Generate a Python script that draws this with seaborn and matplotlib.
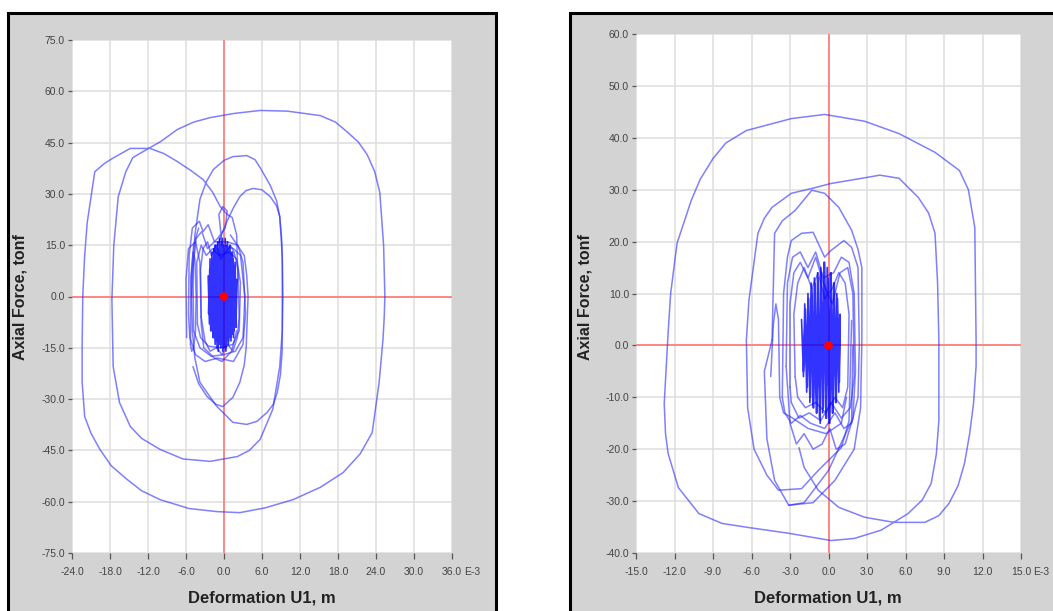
import numpy as np
import pandas as pd
import matplotlib
matplotlib.use("Agg")
import matplotlib.pyplot as plt
import seaborn as sns
from matplotlib.patches import Rectangle

# ---------------- Left panel data (deformation E-3 m, axial force tonf) ----------------
left_big_x = [-5.1, -4.6, -3.8, -2.8, -1.7, 0.0, 1.4, 3.6, 4.9, 5.7, 7.3, 8.3, 8.8, 9.2, 9.3, 9.2, 8.8,
              7.7, 5.7, 4.0, 2.1, -2.2, -6.5, -10.1, -13.0, -14.8, -16.5, -17.5, -17.7, -17.4, -16.7,
              -15.5, -14.4, -12.2, -10.0, -7.4, -4.8, -2.2, 1.5, 5.7, 10.0, 15.2, 17.6, 19.4, 21.2,
              22.6, 23.8, 24.6, 25.2, 25.4, 25.3, 25.1, 24.5, 23.4, 21.5, 18.8, 15.2, 10.9, 6.5, 2.5,
              -1.1, -5.5, -10.1, -13.0, -15.3, -17.8, -19.6, -21.0, -22.0, -22.4, -22.4, -22.3,
              -22.0, -21.6, -20.4, -18.8, -17.5, -14.8, -11.7, -9.5, -7.4, -5.2, -3.3, -1.8, -0.6,
              0.5, 1.3, 2.0, 2.2]
left_big_y = [0.0, 18.0, 28.4, 33.5, 37.1, 39.8, 40.9, 41.2, 40.0, 37.7, 32.5, 28.0, 23.4, 12.0, 0.0,
              -10.0, -20.5, -33.0, -41.8, -45.0, -46.8, -48.2, -47.5, -44.7, -41.5, -38.0, -31.0,
              -20.5, -0.9, 15.0, 29.2, 36.5, 40.6, 43.0, 45.3, 48.8, 51.0, 52.3, 53.5, 54.4, 54.2,
              52.9, 51.0, 48.2, 45.2, 41.5, 36.5, 30.4, 15.0, 0.0, -6.0, -12.6, -25.0, -39.8, -46.0,
              -51.5, -55.8, -59.4, -61.8, -63.2, -62.9, -62.0, -59.4, -56.8, -53.5, -49.5, -44.7,
              -40.0, -35.1, -25.0, -14.6, 0.0, 12.0, 21.6, 36.5, 39.0, 40.5, 43.3, 43.3, 41.8, 39.5,
              36.8, 34.2, 30.5, 26.3, 24.0, 23.1, 18.0, 5.0]

left_mid1_x = [-1.0, -0.2, 0.6, 1.5, 2.5, 3.5, 4.6, 6.0, 7.3, 8.3, 8.8, 9.1, 9.2, 9.2, 8.9, 8.4, 7.8,
               6.8, 5.2, 3.6, 1.4, -1.2, -3.8, -4.6, -5.0, -5.2, -4.8, -4.0]
left_mid1_y = [15.0, 19.0, 22.5, 26.0, 29.2, 31.0, 31.6, 31.2, 29.2, 26.5, 23.4, 17.0, 10.0, -15.5,
               -23.0, -28.1, -31.5, -33.9, -36.5, -37.4, -36.8, -32.0, -25.1, -18.0, -10.0, 5.0,
               15.0, 20.0]

left_mid2_x = [-4.9, -4.0, -2.7, -1.3, -0.2, 1.4, 2.5, 3.2, 3.5, 3.8, 3.6, 3.2, 1.0]
left_mid2_y = [-20.5, -25.5, -29.2, -31.5, -32.2, -29.5, -25.1, -20.0, -15.0, 0.0, 6.0, 12.0, 18.0]

left_ring1_x = [-5.6, -5.5, -5.0, -3.9, -3.3, -2.5, -1.5, 0.5, 2.2, 3.0, 3.4, 3.0, 1.5, -1.0, -3.0,
                -4.5, -5.4, -5.6]
left_ring1_y = [-5.0, 12.0, 20.0, 22.0, 19.0, 21.0, 16.0, 16.0, 15.0, 10.0, -5.0, -14.0, -19.0, -18.0,
                -19.0, -17.0, -12.0, -5.0]

left_ring2_x = [-4.8, -4.9, -4.4, -3.5, -2.6, -1.0, 0.2, 0.5, -0.2, -0.8, -0.3, 1.5, 2.6, 3.3, 3.0,
                1.8, 0.0, -2.0, -3.8, -4.8]
left_ring2_y = [-10.0, 8.0, 17.0, 19.0, 14.0, 17.0, 20.0, 25.0, 26.3, 24.0, 15.0, 14.0, 12.0, 0.0,
                -12.0, -16.0, -17.0, -17.5, -15.0, -10.0]

left_ring3_x = [-4.2, -4.3, -3.6, -2.8, -1.8, -0.8, 0.8, 2.0, 2.6, 2.4, 1.4, -0.5, -2.5, -3.7, -4.2]
left_ring3_y = [-8.0, 10.0, 15.0, 12.0, 14.0, 12.0, 13.0, 11.0, 4.0, -10.0, -14.0, -15.0, -14.5,
                -12.0, -8.0]

left_ring4_x = [-5.9, -6.0, -5.6, -4.5, -3.8, -3.6, -3.2, -1.5, -0.3, 1.2, 2.0]
left_ring4_y = [-12.0, 5.0, 14.0, 16.0, 10.0, -8.0, -15.0, -18.0, -19.0, -16.0, -10.0]

left_ring5_x = [-3.6, -3.7, -3.3, -2.6, -2.0, -1.2, -0.5, 0.3, 1.0, 1.6, 2.2, 2.4, 2.1, 1.4, 0.6,
                -0.3, -1.2, -2.2, -3.0, -3.6]
left_ring5_y = [-6.0, 8.0, 14.0, 16.0, 12.0, 15.0, 11.0, 13.0, 15.0, 13.0, 8.0, -6.0, -12.0, -16.0,
                -14.0, -17.0, -15.0, -16.0, -13.0, -6.0]

left_ring6_x = [-5.3, -5.2, -4.9, -4.6, -4.4, -4.5, -4.8, -5.1, -5.3]
left_ring6_y = [-14.0, 6.0, 13.0, 11.0, 0.0, -10.0, -15.0, -16.0, -14.0]

left_core_x = [-2.5, -2.3, -2.2, -2.0, -1.9, -1.7, -1.6, -1.4, -1.3, -1.1, -1.0, -0.8, -0.7, -0.5,
               -0.4, -0.2, -0.1, 0.1, 0.2, 0.4, 0.5, 0.7, 0.8, 1.0, 1.1, 1.3, 1.4, 1.6, 1.7, 1.9, 2.0,
               1.9, 1.75, 1.5, 1.35, 1.1, 0.95, 0.7, 0.55, 0.3, 0.15, -0.1, -0.25, -0.5, -0.65,
               -0.9, -1.05, -1.3, -1.45, -1.7, -1.85, -2.1, -2.25, -2.45,
               -1.6, -0.9, -1.4, -0.3, -1.0, 0.4, -0.5, 1.0, 0.0, 1.4, 0.5, 1.5]
left_core_y = [6, -8, 11, -10, 13, -12, 14, -14, 15, -15, 16, -14, 17, -15, 16, -16, 15, -15, 17, -14,
               15, -13, 14, -12, 13, -11, 11, -10, 9, -7, 5,
               -9, 10, -12, 13, -13, 15, -14, 16, -16, 14, -15, 17, -14, 15, -16, 14, -13, 15, -12,
               11, -10, 8, -5,
               3, 10, -8, 6, -11, 9, -6, 12, -10, 7, -12, 4]

# ---------------- Right panel data ----------------
right_big_x = [-2.3, -1.9, -0.8, 0.8, 2.8, 5.1, 7.5, 8.6, 9.4, 10.1, 10.6, 11.0, 11.3, 11.5, 11.5,
               11.4, 10.9, 10.2, 8.3, 5.5, 2.8, -0.3, -2.9, -6.4, -8.0, -9.0, -10.0, -10.7, -11.8,
               -12.3, -12.5, -12.8, -12.7, -12.5, -11.7, -10.1, -8.3, -6.2, -3.1, 0.2, 2.0, 4.1, 6.2,
               7.3, 8.0, 8.4, 8.6, 8.6, 8.5, 8.3, 7.8, 7.0, 5.5, 4.0, 2.6, 0.2, -1.2, -2.9, -4.4,
               -5.0, -5.5, -6.2, -6.4, -6.3, -5.8, -4.8, -3.9, -2.1, -0.8, 1.0, 1.6, 1.8]
right_big_y = [-19.7, -23.5, -27.9, -31.2, -33.1, -34.1, -34.1, -32.8, -30.4, -27.0, -22.7, -17.0,
               -11.2, -4.0, 1.0, 22.7, 30.0, 33.7, 37.2, 40.8, 43.2, 44.5, 43.7, 41.4, 39.0, 36.0,
               32.0, 27.9, 19.7, 10.0, 2.3, -11.2, -17.0, -20.8, -27.4, -32.4, -34.3, -35.1, -36.2,
               -37.6, -37.2, -35.6, -32.4, -29.8, -26.6, -21.0, -14.5, 1.0, 12.0, 21.6, 25.5, 28.5,
               32.2, 32.8, 32.2, 31.2, 30.3, 29.3, 26.6, 24.5, 21.6, 8.7, 1.0, -12.0, -20.0, -25.0,
               -27.9, -27.6, -24.1, -19.7, -14.5, 4.8]

right_mid1_x = [-4.4, -4.2, -3.6, -2.6, -1.3, -0.3, 0.8, 1.8, 2.3, 2.6, 2.6, 2.5, 2.0, 0.5, -1.2,
                -3.1, -4.2, -4.8, -5.0, -4.4]
right_mid1_y = [1.0, 21.6, 24.0, 26.0, 29.9, 29.3, 26.6, 22.2, 18.5, 15.0, 1.0, -12.0, -20.0, -26.0,
                -30.3, -30.8, -26.0, -18.0, -5.0, 1.0]

right_mid2_x = [-3.1, -1.9, 0.0, 1.2, 1.8, 1.9]
right_mid2_y = [-30.8, -30.3, -24.1, -17.7, -14.5, 0.0]

right_ring1_x = [-3.6, -3.5, -3.2, -2.9, -2.1, -1.2, -0.3, 0.2, 1.2, 1.8, 2.3, 2.4, 2.3, 1.8, 1.2,
                 0.5, -0.3, -1.4, -2.2, -2.9, -3.4, -3.6]
right_ring1_y = [-10.0, 10.0, 17.0, 20.2, 21.6, 21.8, 17.0, 18.3, 20.2, 18.9, 15.0, 0.0, -10.0, -15.0,
                 -16.0, -13.0, -16.0, -15.0, -13.5, -15.0, -13.0, -10.0]

right_ring2_x = [-3.0, -3.0, -2.7, -2.2, -1.6, -1.0, -0.4, 0.3, 0.9, 1.5, 1.9, 2.0, 1.7, 1.0, 0.2,
                 -0.6, -1.5, -2.3, -2.9, -3.0]
right_ring2_y = [-8.0, 8.0, 14.0, 16.0, 13.0, 17.0, 12.0, 8.0, 14.0, 15.0, 10.0, -6.0, -12.0, -14.0,
                 -11.0, -14.5, -13.0, -14.0, -11.0, -8.0]

right_ring3_x = [-4.5, -4.3, -4.1, -3.9, -3.8, -3.5, -2.8, -1.6, -0.2, 1.0, 1.4]
right_ring3_y = [-6.0, 4.0, 8.0, 5.0, -10.0, -13.0, -14.0, -16.0, -17.0, -15.0, -10.0]

right_ring4_x = [-2.6, -2.7, -2.4, -1.9, -1.3, -0.8, -0.3, 0.3, 0.8, 1.3, 1.6, 1.5, 1.1, 0.5, -0.2,
                 -1.0, -1.8, -2.4, -2.6]
right_ring4_y = [-6.0, 6.0, 12.0, 15.0, 11.0, 14.0, 9.0, 11.0, 14.0, 12.0, 6.0, -8.0, -12.0, -10.0,
                 -13.0, -11.0, -12.0, -10.0, -6.0]

right_ring5_x = [-3.3, -3.2, -2.8, -2.2, -1.6, -1.0, -0.4, 0.4, 1.0, 1.6, 2.0, 2.1, 1.9, 1.3, 0.6,
                 0.1, -0.5, -1.2, -1.9, -2.5, -3.0, -3.3]
right_ring5_y = [-4.0, 12.0, 17.0, 18.0, 15.0, 18.0, 13.0, 14.0, 17.0, 16.0, 10.0, -5.0, -14.0,
                 -19.0, -20.0, -16.0, -19.0, -20.0, -17.0, -19.0, -15.0, -4.0]

right_core_x = [-2.1, -1.95, -1.85, -1.7, -1.6, -1.45, -1.35, -1.2, -1.1, -0.95, -0.85, -0.7, -0.6,
                -0.45, -0.35, -0.2, -0.1, 0.05, 0.15, 0.3, 0.4, 0.55, 0.65, 0.8, 0.9,
                0.85, 0.7, 0.6, 0.45, 0.35, 0.2, 0.1, -0.05, -0.15, -0.3, -0.4, -0.55, -0.65, -0.8,
                -0.9, -1.05, -1.15, -1.3, -1.4, -1.55, -1.65, -1.8, -1.95]
right_core_y = [5, -6, 8, -9, 10, -11, 12, -12, 13, -13, 14, -14, 15, -13, 16, -14, 15, -15, 14, -13,
                12, -11, 10, -9, 6,
                -7, 9, -11, 12, -13, 14, -15, 13, -14, 16, -12, 14, -15, 13, -13, 12, -12, 11, -10,
                9, -8, 7, -5]

# axis ticks / labels
left_xticks = [-24, -18, -12, -6, 0, 6, 12, 18, 24, 30, 36]
left_yticks = [-75, -60, -45, -30, -15, 0, 15, 30, 45, 60, 75]
right_xticks = [-15, -12, -9, -6, -3, 0, 3, 6, 9, 12, 15]
right_yticks = [-40, -30, -20, -10, 0, 10, 20, 30, 40, 50, 60]

xlabel = "Deformation U1, m"
ylabel = "Axial Force, tonf"


def build_frame(paths):
    frames = []
    for name, (xs, ys) in paths.items():
        frames.append(pd.DataFrame({"x": xs, "y": ys, "path": name}))
    return pd.concat(frames, ignore_index=True)


left_loops = build_frame({
    "big": (left_big_x, left_big_y),
    "mid1": (left_mid1_x, left_mid1_y),
    "mid2": (left_mid2_x, left_mid2_y),
    "r1": (left_ring1_x, left_ring1_y),
    "r2": (left_ring2_x, left_ring2_y),
    "r3": (left_ring3_x, left_ring3_y),
    "r4": (left_ring4_x, left_ring4_y),
    "r5": (left_ring5_x, left_ring5_y),
    "r6": (left_ring6_x, left_ring6_y),
})
left_core = build_frame({"core": (left_core_x, left_core_y)})
right_loops = build_frame({
    "big": (right_big_x, right_big_y),
    "mid1": (right_mid1_x, right_mid1_y),
    "mid2": (right_mid2_x, right_mid2_y),
    "r1": (right_ring1_x, right_ring1_y),
    "r2": (right_ring2_x, right_ring2_y),
    "r3": (right_ring3_x, right_ring3_y),
    "r4": (right_ring4_x, right_ring4_y),
    "r5": (right_ring5_x, right_ring5_y),
})
right_core = build_frame({"core": (right_core_x, right_core_y)})

sns.set_style("white")
plt.rcParams["font.family"] = ["Liberation Sans", "DejaVu Sans"]

fig = plt.figure(figsize=(10.53, 6.11), dpi=100)
fig.patch.set_facecolor("white")

# grey framed panels (drawn behind the axes)
W, H = 1053, 611
fig.patches.append(Rectangle((8 / W, -0.02), 488 / W, 1.02 - 13 / H, transform=fig.transFigure,
                             facecolor="#d3d3d3", edgecolor="black", lw=2.2, zorder=-10))
fig.patches.append(Rectangle((570 / W, -0.02), 0.5, 1.02 - 13 / H, transform=fig.transFigure,
                             facecolor="#d3d3d3", edgecolor="black", lw=2.2, zorder=-10))

ax1 = fig.add_axes([72 / W, 1 - 553 / H, 380 / W, 513 / H])
ax2 = fig.add_axes([636 / W, 1 - 553 / H, 385 / W, 519 / H])

panels = [
    (ax1, left_loops, left_core, left_xticks, left_yticks, (-24, 36), (-75, 75), (262, 20)),
    (ax2, right_loops, right_core, right_xticks, right_yticks, (-15, 15), (-40, 60), (828, 585)),
]

for ax, loops, core, xt, yt, xlim, ylim, (xl_px, yl_px) in panels:
    ax.set_facecolor("white")
    ax.axhline(0, color="#ff8080", lw=1.3, zorder=1)
    ax.axvline(0, color="#ff8080", lw=1.3, zorder=1)
    sns.lineplot(data=loops, x="x", y="y", units="path", estimator=None, sort=False,
                 color="#2a2aff", lw=1.1, alpha=0.6, ax=ax, legend=False, zorder=2)
    sns.lineplot(data=core, x="x", y="y", units="path", estimator=None, sort=False,
                 color="#0000ff", lw=1.2, alpha=0.8, ax=ax, legend=False, zorder=2)
    sns.scatterplot(x=[0], y=[0], color="red", s=38, edgecolor="none", ax=ax, zorder=3)
    ax.set_xlim(*xlim)
    ax.set_ylim(*ylim)
    ax.set_xticks(xt)
    ax.set_yticks(yt)
    ax.set_xticklabels([f"{v:.1f}" for v in xt])
    ax.set_yticklabels([f"{v:.1f}" for v in yt])
    ax.grid(True, color="#dedede", lw=1.1)
    ax.set_axisbelow(True)
    for s in ax.spines.values():
        s.set_visible(False)
    ax.tick_params(axis="both", direction="out", length=3, width=0.9, color="#555555",
                   labelsize=7.5, labelcolor="#444444", pad=2, bottom=True, left=True)
    ax.tick_params(axis="x", length=4, pad=6)
    ax.set_xlabel("")
    ax.set_ylabel("")
    ax.annotate("E-3", xy=(1, 0), xycoords="axes fraction", xytext=(9, -14),
                textcoords="offset points", fontsize=7.5, color="#444444", ha="left", va="center")
    fig.text(xl_px / W, 1 - 598 / H, xlabel, ha="center", va="center", fontsize=12,
             fontweight="bold", color="#222222")
    fig.text(yl_px / W, 1 - 297 / H, ylabel, ha="center", va="center", rotation=90,
             fontsize=11.5, fontweight="bold", color="#222222")

fig.savefig("out.png", dpi=100)
